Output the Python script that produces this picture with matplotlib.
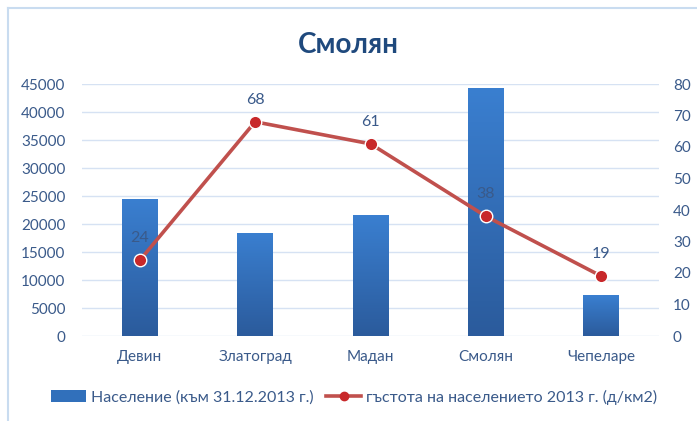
import matplotlib
matplotlib.use("Agg")
import matplotlib.pyplot as plt
import numpy as np
from matplotlib.colors import LinearSegmentedColormap
from matplotlib.patches import Patch
from matplotlib.lines import Line2D

plt.rcParams['font.family'] = ['Lato', 'DejaVu Sans']

categories = ["Девин", "Златоград", "Мадан", "Смолян", "Чепеларе"]
population = [24500, 18400, 21600, 44300, 7300]
density = [24, 68, 61, 38, 19]
left_ticks = [0, 5000, 10000, 15000, 20000, 25000, 30000, 35000, 40000, 45000]
right_ticks = [0, 10, 20, 30, 40, 50, 60, 70, 80]
title = "Смолян"
bar_label = "Население (към 31.12.2013 г.)"
line_label = "гъстота на населението 2013 г. (д/км2)"

txt = "#3a5a8a"
fig = plt.figure(figsize=(6.97, 4.21), dpi=100)
ax = fig.add_axes([82/697, 85/421, 577/697, 252/421])
x = np.arange(len(categories))
bars = ax.bar(x, population, width=0.31, color="#3476c4", zorder=2)
cmap = LinearSegmentedColormap.from_list("g", ["#2b5b9c", "#3a7fd0"])
grad = np.linspace(0, 1, 100).reshape(-1, 1)
for b in bars:
    x0, w, h = b.get_x(), b.get_width(), b.get_height()
    im = ax.imshow(grad, extent=[x0, x0 + w, 0, h], origin="lower", aspect="auto",
                   cmap=cmap, zorder=3)
    im.set_clip_path(b)
ax.set_xlim(-0.5, len(categories) - 0.5)
ax.set_ylim(0, 45000)
ax.set_yticks(left_ticks)
ax.set_xticks(x)
ax.set_xticklabels(categories)
ax.grid(axis="y", color="#d6e2f3", linewidth=1, zorder=0)
ax.set_axisbelow(True)
for s in ax.spines.values():
    s.set_visible(False)
ax.tick_params(length=0, labelsize=11, colors=txt, pad=12)
ax.tick_params(axis="x", pad=10)

ax2 = ax.twinx()
ax2.plot(x, density, color="#c0504d", linewidth=2.6, marker="o", markersize=9,
         markerfacecolor="#c8282a", markeredgecolor="white", markeredgewidth=1.0, zorder=5)
ax2.set_ylim(0, 80)
ax2.set_yticks(right_ticks)
for s in ax2.spines.values():
    s.set_visible(False)
ax2.tick_params(length=0, labelsize=11, colors=txt, pad=10)
for xi, d in zip(x, density):
    ax2.annotate(str(d), (xi, d), xytext=(0, 11), textcoords="offset points",
                 ha="center", va="bottom", fontsize=11.5, color=txt)

fig.text(0.5, 1 - 45/421, title, ha="center", va="center", fontsize=20,
         fontweight="bold", color="#1f497d")

handles = [Patch(facecolor="#3170bb", edgecolor="none"),
           Line2D([0], [0], color="#c0504d", linewidth=2.6, marker="o", markersize=6,
                  markerfacecolor="#c8282a", markeredgecolor="#c8282a")]
fig.legend(handles, [bar_label, line_label], loc="center", bbox_to_anchor=(0.508, 1 - 397/421),
           ncol=2, frameon=False, fontsize=11.5, labelcolor=txt, handlelength=2.2,
           handletextpad=0.3, columnspacing=0.8)

fig.add_artist(Line2D([8/697, 8/697], [0, 1 - 8/421], transform=fig.transFigure,
                      color="#c9dcf0", linewidth=1.5))
fig.add_artist(Line2D([8/697, 1], [1 - 8/421, 1 - 8/421], transform=fig.transFigure,
                      color="#c9dcf0", linewidth=1.5))

fig.savefig("out.png", dpi=100)
